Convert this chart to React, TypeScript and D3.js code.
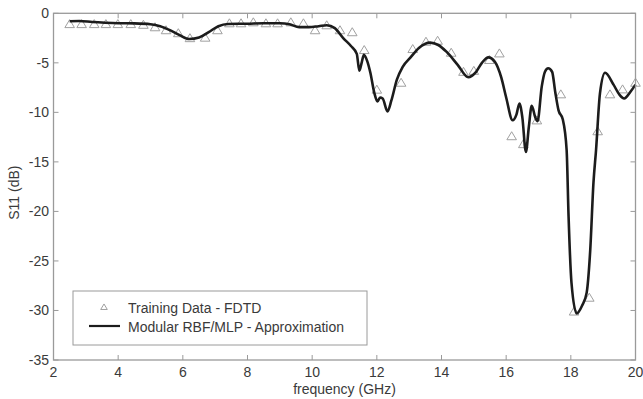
import React from 'react';
import * as d3 from 'd3';

// S11 approximation (model curve)
const curveFreq = [2.5, 2.8, 3.2, 3.6, 4.0, 4.5, 5.0, 5.3, 5.6, 5.9, 6.2, 6.5, 6.8, 7.1, 7.4, 8.0, 8.5, 9.0, 9.3, 9.6, 9.9, 10.2, 10.45, 10.7, 10.96, 11.2, 11.38, 11.46, 11.53, 11.6, 11.7, 11.8, 11.92, 12.02, 12.1, 12.18, 12.33, 12.45, 12.62, 12.8, 13.03, 13.3, 13.65, 13.9, 14.16, 14.5, 14.83, 15.05, 15.25, 15.45, 15.65, 15.85, 16.0, 16.2, 16.32, 16.41, 16.5, 16.61, 16.7, 16.79, 16.9, 16.97, 17.1, 17.2, 17.3, 17.42, 17.52, 17.62, 17.75, 17.87, 17.93, 18.02, 18.18, 18.35, 18.49, 18.6, 18.7, 18.78, 18.9, 19.06, 19.32, 19.5, 19.65, 19.85, 20.0];
const curveS11 = [-0.8, -0.78, -0.88, -0.95, -1.0, -1.02, -1.1, -1.3, -1.7, -2.2, -2.6, -2.45, -1.9, -1.3, -1.08, -1.05, -1.0, -1.0, -1.1, -1.4, -1.4, -1.3, -1.2, -1.5, -2.5, -3.3, -4.1, -5.8, -5.0, -4.2, -4.8, -6.0, -8.0, -8.9, -8.5, -8.6, -9.9, -8.8, -6.7, -5.4, -4.5, -3.5, -2.96, -3.2, -3.9, -5.2, -6.46, -6.0, -5.0, -4.45, -4.9, -6.5, -8.5, -10.8, -10.2, -9.1, -10.5, -14.0, -11.5, -9.35, -10.5, -10.9, -7.4, -5.9, -5.55, -5.9, -8.0, -9.8, -10.7, -13.8, -20.5, -27.2, -30.3, -29.5, -28.2, -23.9, -17.1, -13.8, -8.1, -6.0, -7.2, -8.2, -8.6, -7.9, -7.2];

// FDTD training samples
const trainFreq = [2.5, 2.87, 3.26, 3.62, 3.99, 4.39, 4.78, 5.14, 5.48, 5.86, 6.22, 6.69, 7.07, 7.44, 7.8, 8.18, 8.57, 8.93, 9.34, 9.73, 10.09, 10.45, 10.86, 11.24, 11.61, 12.0, 12.75, 13.11, 13.52, 13.88, 14.3, 14.68, 15.0, 15.48, 15.79, 16.17, 16.53, 16.95, 17.69, 18.1, 18.57, 18.83, 19.21, 19.6, 20.0];
const trainS11 = [-1.08, -1.08, -1.08, -1.08, -1.08, -1.08, -1.15, -1.4, -1.7, -2.0, -2.5, -2.45, -1.7, -1.0, -1.0, -0.9, -1.0, -1.0, -0.9, -1.0, -1.7, -1.2, -1.7, -1.9, -3.7, -7.7, -7.0, -3.6, -2.86, -2.76, -3.97, -5.9, -5.8, -4.7, -4.04, -12.4, -13.2, -10.8, -8.17, -30.1, -28.7, -11.9, -8.17, -7.67, -7.0];

const xTicks = [2, 4, 6, 8, 10, 12, 14, 16, 18, 20];
const yTicks = [0, -5, -10, -15, -20, -25, -30, -35];
const legendLabels = ['Training Data - FDTD', 'Modular RBF/MLP - Approximation'];

const W = 643;
const H = 399;
const left = 53.5;
const right = 635.5;
const top = 13.3;
const bottom = 360;

const font = 'Liberation Sans, Arial, Helvetica, sans-serif';
const axisColor = '#9a9a9a';
const textColor = '#3a3a3a';

const triPath = (cx: number, cy: number, s: number) =>
  `M${cx},${cy - s * 0.55}L${cx + s * 0.6},${cy + s * 0.45}L${cx - s * 0.6},${cy + s * 0.45}Z`;

export default function App() {
  const x = d3.scaleLinear().domain([2, 20]).range([left, right]);
  const y = d3.scaleLinear().domain([-35, 0]).range([bottom, top]);

  const line = d3
    .line<number>()
    .x((_, i) => x(curveFreq[i]))
    .y((d) => y(d))
    .curve(d3.curveMonotoneX);

  const tick = 5;

  return (
    <svg
      width={W}
      height={H}
      style={{ position: 'absolute', left: 0, top: 0, background: '#fff' }}
      fontFamily={font}
    >
      <rect x={0} y={0} width={W} height={H} fill="#fff" />

      {/* training data triangles */}
      {trainFreq.map((f, i) => (
        <path
          key={'t' + i}
          d={triPath(x(f), y(trainS11[i]), 8)}
          fill="none"
          stroke="#a0a0a0"
          strokeWidth={1}
        />
      ))}

      {/* model curve */}
      <path d={line(curveS11) || ''} fill="none" stroke="#1c1c1c" strokeWidth={2.6} strokeLinejoin="round" />

      {/* axes box */}
      <rect x={left} y={top} width={right - left} height={bottom - top} fill="none" stroke={axisColor} strokeWidth={1.3} />

      {xTicks.map((t) => (
        <g key={'x' + t}>
          <line x1={x(t)} x2={x(t)} y1={bottom} y2={bottom - tick} stroke={axisColor} />
          <line x1={x(t)} x2={x(t)} y1={top} y2={top + tick} stroke={axisColor} />
          <text x={x(t)} y={377} textAnchor="middle" fontSize={14} fill={textColor}>
            {t}
          </text>
        </g>
      ))}

      {yTicks.map((t) => (
        <g key={'y' + t}>
          <line x1={left} x2={left + tick} y1={y(t)} y2={y(t)} stroke={axisColor} />
          <line x1={right} x2={right - tick} y1={y(t)} y2={y(t)} stroke={axisColor} />
          <text x={49} y={y(t) + 5} textAnchor="end" fontSize={14} fill={textColor}>
            {t}
          </text>
        </g>
      ))}

      <text x={(left + right) / 2} y={394} textAnchor="middle" fontSize={14} fill={textColor}>
        frequency (GHz)
      </text>
      <text
        transform={`translate(19, ${(top + bottom) / 2 + 6}) rotate(-90)`}
        textAnchor="middle"
        fontSize={14}
        fill={textColor}
      >
        S11 (dB)
      </text>

      {/* legend */}
      <rect x={73} y={291} width={294} height={54} fill="#fff" stroke={axisColor} strokeWidth={1} />
      <path d={triPath(104, 307, 5.5)} fill="none" stroke="#a0a0a0" strokeWidth={1} />
      <line x1={89} x2={120} y1={326} y2={326} stroke="#1c1c1c" strokeWidth={2.2} />
      <text x={128} y={313} fontSize={14} fill={textColor}>
        {legendLabels[0]}
      </text>
      <text x={128} y={332} fontSize={14} fill={textColor}>
        {legendLabels[1]}
      </text>
    </svg>
  );
}
